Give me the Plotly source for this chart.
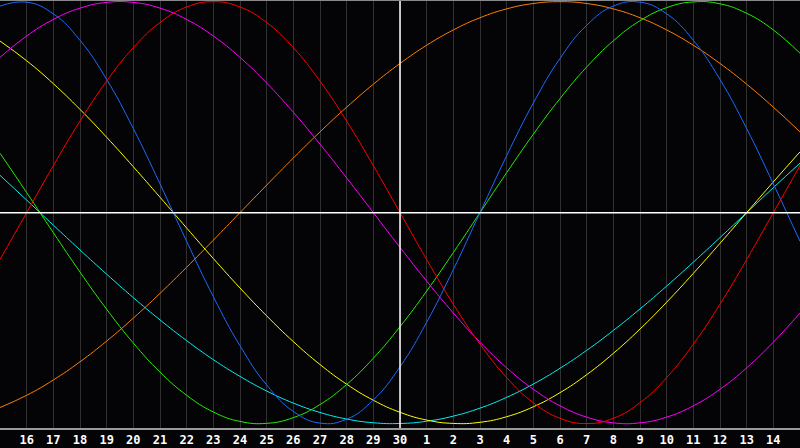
import plotly.graph_objects as go

# day labels along the bottom (index 0..30, labels on 1..29)
days = list(range(31))
tick_pos = list(range(1, 30))
tick_labels = ["16", "17", "18", "19", "20", "21", "22", "23", "24", "25", "26", "27", "28", "29", "30",
               "1", "2", "3", "4", "5", "6", "7", "8", "9", "10", "11", "12", "13", "14"]

# curve values, one per day (-1 .. 1)
red = [-0.2225, 0.0, 0.2225, 0.4339, 0.6235, 0.7818, 0.9010, 0.9749, 1.0, 0.9749, 0.9010, 0.7818, 0.6235,
       0.4339, 0.2225, 0.0, -0.2225, -0.4339, -0.6235, -0.7818, -0.9010, -0.9749, -1.0, -0.9749, -0.9010,
       -0.7818, -0.6235, -0.4339, -0.2225, 0.0, 0.2225]
blue = [0.9791, 0.9977, 0.9423, 0.8170, 0.6310, 0.3984, 0.1362, -0.1362, -0.3984, -0.6310, -0.8170, -0.9423,
        -0.9977, -0.9791, -0.8879, -0.7308, -0.5196, -0.2698, 0.0, 0.2698, 0.5196, 0.7308, 0.8879, 0.9791,
        0.9977, 0.9423, 0.8170, 0.6310, 0.3984, 0.1362, -0.1362]
green = [0.2817, 0.0950, -0.0950, -0.2817, -0.4582, -0.6182, -0.7557, -0.8660, -0.9450, -0.9898, -0.9989,
         -0.9718, -0.9096, -0.8146, -0.6901, -0.5406, -0.3717, -0.1893, 0.0, 0.1893, 0.3717, 0.5406, 0.6901,
         0.8146, 0.9096, 0.9718, 0.9989, 0.9898, 0.9450, 0.8660, 0.7557]
magenta = [0.7357, 0.8372, 0.9158, 0.9694, 0.9966, 0.9966, 0.9694, 0.9158, 0.8372, 0.7357, 0.6142, 0.4759,
           0.3247, 0.1646, 0.0, -0.1646, -0.3247, -0.4759, -0.6142, -0.7357, -0.8372, -0.9158, -0.9694,
           -0.9966, -0.9966, -0.9694, -0.9158, -0.8372, -0.7357, -0.6142, -0.4759]
orange = [-0.9239, -0.8660, -0.7934, -0.7071, -0.6088, -0.5, -0.3827, -0.2588, -0.1305, 0.0, 0.1305, 0.2588,
          0.3827, 0.5, 0.6088, 0.7071, 0.7934, 0.8660, 0.9239, 0.9659, 0.9914, 1.0, 0.9914, 0.9659, 0.9239,
          0.8660, 0.7934, 0.7071, 0.6088, 0.5, 0.3827]
yellow = [0.8133, 0.7200, 0.6113, 0.4894, 0.3572, 0.2174, 0.0730, -0.0730, -0.2174, -0.3572, -0.4894, -0.6113,
          -0.7200, -0.8133, -0.8894, -0.9465, -0.9833, -0.9993, -0.9940, -0.9675, -0.9204, -0.8535, -0.7683,
          -0.6671, -0.5519, -0.4245, -0.2880, -0.1456, 0.0, 0.1456, 0.2880]
cyan = [0.1769, 0.0593, -0.0593, -0.1769, -0.2920, -0.4031, -0.5085, -0.6069, -0.6969, -0.7764, -0.8456,
        -0.9028, -0.9473, -0.9785, -0.9961, -0.9996, -0.9890, -0.9646, -0.9267, -0.8757, -0.8125, -0.7379,
        -0.6530, -0.5585, -0.4566, -0.3482, -0.2349, -0.1183, 0.0, 0.1183, 0.2349]

curves = [
    (orange, "#ff8000"),
    (cyan, "#00f0f0"),
    (yellow, "#ffff00"),
    (green, "#22ee00"),
    (magenta, "#ff00ff"),
    (blue, "#1a6bff"),
    (red, "#ff0000"),
]

fig = go.Figure()
for vals, col in curves:
    fig.add_trace(go.Scatter(x=days, y=vals, mode="lines",
                             line=dict(color=col, width=1, shape="spline", smoothing=1.3),
                             hoverinfo="skip", showlegend=False))

# centre cross
fig.add_shape(type="line", x0=15, x1=15, y0=0, y1=1, xref="x", yref="paper",
              line=dict(color="white", width=1.5), layer="above")
fig.add_shape(type="line", x0=0, x1=1, y0=0, y1=0, xref="paper", yref="y",
              line=dict(color="white", width=1.5), layer="above")
# top border
fig.add_shape(type="line", x0=0, x1=1, y0=1, y1=1, xref="paper", yref="paper",
              line=dict(color="#888888", width=2))

fig.update_xaxes(range=[0, 30], tickvals=tick_pos, ticktext=tick_labels,
                 showgrid=True, gridcolor="#303030", gridwidth=1, zeroline=False,
                 showline=True, linecolor="#999999", linewidth=2,
                 ticks="", ticklabelstandoff=0, automargin=False,
                 tickfont=dict(color="white", size=12, family="DejaVu Sans Mono", weight="bold"))
fig.update_yaxes(range=[-1.021, 1.008], showgrid=False, zeroline=False, automargin=False,
                 showticklabels=False, showline=True, linecolor="#888888", linewidth=2)

fig.update_layout(
    width=800, height=448,
    margin=dict(l=0, r=0, t=0, b=20),
    paper_bgcolor="#040306",
    plot_bgcolor="#040306",
)

fig.write_html("out.html", config={"displayModeBar": False},
               post_script="document.body.style.margin='0';")
